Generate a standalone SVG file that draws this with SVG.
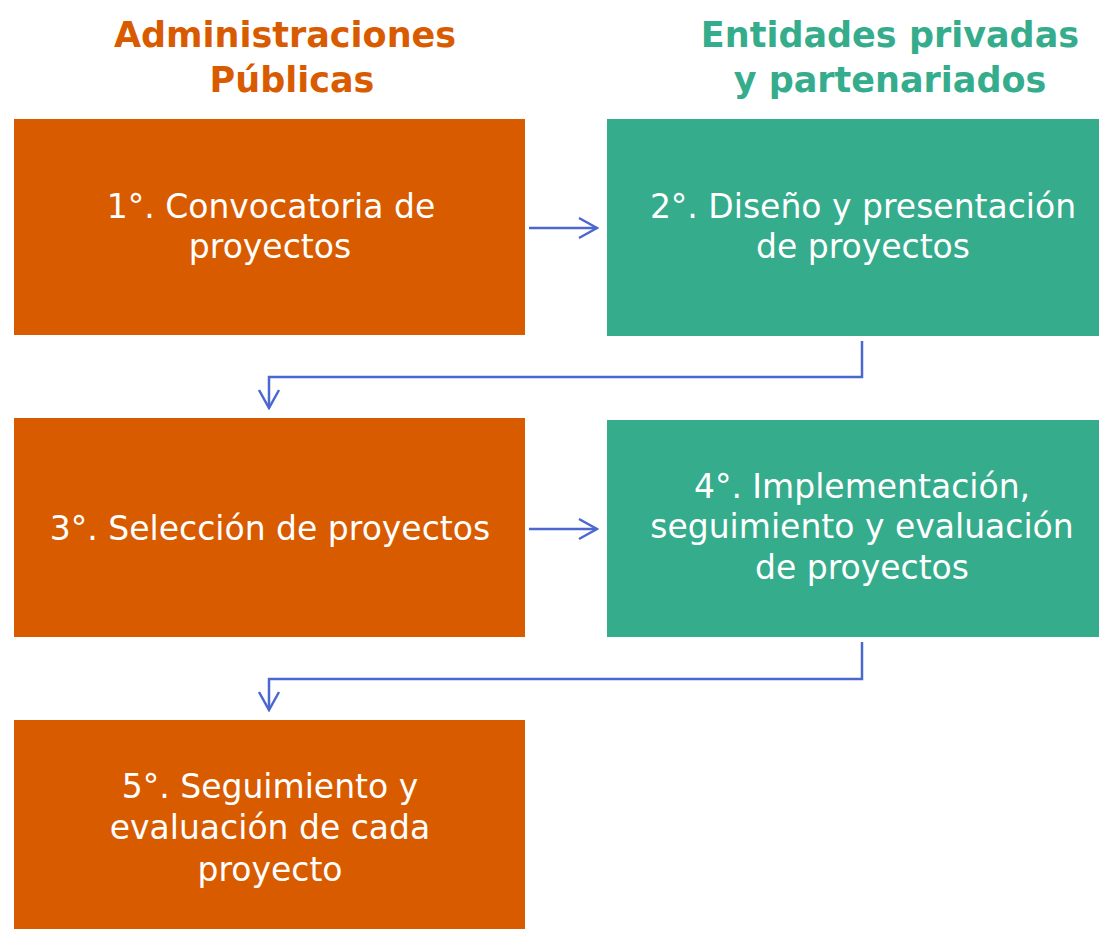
<svg xmlns="http://www.w3.org/2000/svg" width="1099" height="929" viewBox="0 0 1099 929">
<defs>
<style>
.or{fill:#D95B00}
.gr{fill:#35AC8C}
.t{font-family:"DejaVu Sans","Liberation Sans",sans-serif;font-size:33px;fill:#ffffff;text-anchor:middle}
.h{font-family:"DejaVu Sans","Liberation Sans",sans-serif;font-size:35px;font-weight:bold;text-anchor:middle}
.c{fill:none;stroke:#4C68CF;stroke-width:2.5}
</style>
<marker id="ah" viewBox="0 0 22 24" refX="20" refY="12" markerWidth="22" markerHeight="24" markerUnits="userSpaceOnUse" orient="auto">
<path d="M2,2 L20,12 L2,22" fill="none" stroke="#4C68CF" stroke-width="2.5"/>
</marker>
</defs>
<rect width="1099" height="929" fill="#ffffff"/>
<g id="header-admin">
<text class="h" x="285" y="47" fill="#D95B00">Administraciones</text>
<text class="h" x="292" y="92" fill="#D95B00">Públicas</text>
</g>
<g id="header-entidades">
<text class="h" x="890" y="47" fill="#35AC8C">Entidades privadas</text>
<text class="h" x="890" y="92" fill="#35AC8C">y partenariados</text>
</g>
<g id="n1">
<rect class="or" x="14" y="119" width="511" height="216"/>
<text class="t" x="271" y="218">1°. Convocatoria de</text>
<text class="t" x="270" y="258">proyectos</text>
</g>
<g id="n2">
<rect class="gr" x="607" y="119" width="492" height="217"/>
<text class="t" x="863" y="218">2°. Diseño y presentación</text>
<text class="t" x="863" y="258">de proyectos</text>
</g>
<g id="n3">
<rect class="or" x="14" y="418" width="511" height="219"/>
<text class="t" x="270" y="540">3°. Selección de proyectos</text>
</g>
<g id="n4">
<rect class="gr" x="607" y="420" width="492" height="217"/>
<text class="t" x="862" y="498">4°. Implementación,</text>
<text class="t" x="862" y="538">seguimiento y evaluación</text>
<text class="t" x="862" y="579">de proyectos</text>
</g>
<g id="n5">
<rect class="or" x="14" y="720" width="511" height="209"/>
<text class="t" x="270" y="798">5°. Seguimiento y</text>
<text class="t" x="270" y="839">evaluación de cada</text>
<text class="t" x="270" y="881">proyecto</text>
</g>
<g id="connectors">
<path class="c" d="M529,228 L597,228" marker-end="url(#ah)"/>
<path class="c" d="M862,341 L862,377 L269,377 L269,408" marker-end="url(#ah)"/>
<path class="c" d="M529,529 L597,529" marker-end="url(#ah)"/>
<path class="c" d="M862,642 L862,679 L269,679 L269,710" marker-end="url(#ah)"/>
</g>
</svg>
